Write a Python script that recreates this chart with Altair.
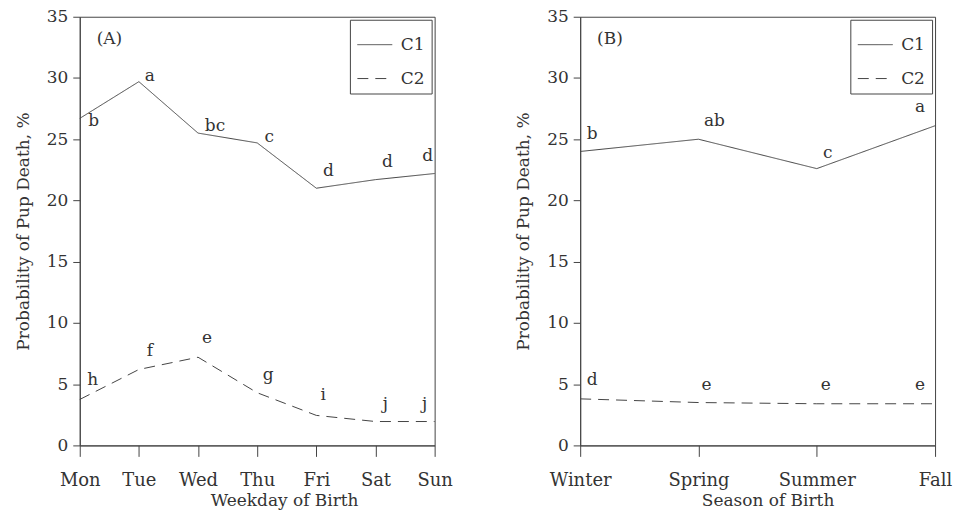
import altair as alt
import pandas as pd

# ---------------- data ----------------
weekdays = ["Mon", "Tue", "Wed", "Thu", "Fri", "Sat", "Sun"]
week_c1 = [26.7, 29.7, 25.5, 24.7, 21.0, 21.7, 22.2]
week_c2 = [3.75, 6.2, 7.2, 4.3, 2.45, 1.95, 1.95]
week_c1_letters = ["b", "a", "bc", "c", "d", "d", "d"]
week_c2_letters = ["h", "f", "e", "g", "i", "j", "j"]

seasons = ["Winter", "Spring", "Summer", "Fall"]
season_c1 = [24.0, 25.0, 22.6, 26.1]
season_c2 = [3.8, 3.5, 3.4, 3.4]
season_c1_letters = ["b", "ab", "c", "a"]
season_c2_letters = ["d", "e", "e", "e"]

# annotation placement (letter centre height in data units, horizontal shift in px)
week_c1_label_y = [26.5, 30.2, 26.1, 25.2, 22.4, 23.1, 23.6]
week_c1_label_dx = [14, 11, 17, 12, 12, 12, -7]
week_c2_label_y = [5.3, 7.7, 8.75, 5.75, 4.1, 3.4, 3.4]
week_c2_label_dx = [13, 11, 9, 11, 7, 10, -10]
season_c1_label_y = [25.4, 26.5, 23.9, 27.6]
season_c1_label_dx = [12, 16, 11, -15]
season_c2_label_y = [5.3, 4.9, 4.9, 4.9]
season_c2_label_dx = [12, 8, 9, -15]

y_tick_values = [0, 2.5, 5, 7.5, 10, 12.5, 15, 17.5, 20, 22.5, 25, 27.5, 30, 32.5, 35]

FONT = "DejaVu Serif"
INK = "#444444"
TEXT = "#333333"


def panel(cats, c1, c2, l1, l2, ly1, ly2, dx1, dx2, tag, xtitle, xtitle_x):
    df = pd.DataFrame({
        "cat": cats + cats,
        "value": c1 + c2,
        "series": ["C1"] * len(cats) + ["C2"] * len(cats),
    })
    lab = pd.DataFrame({
        "cat": cats + cats,
        "ly": ly1 + ly2,
        "dx": dx1 + dx2,
        "letter": l1 + l2,
    })
    xenc = alt.X(
        "cat:N",
        sort=cats,
        scale=alt.Scale(type="point", padding=0, domain=cats),
        axis=alt.Axis(title=xtitle, labelAngle=0, tickSize=11, labelPadding=15,
                      labelFontSize=18, titlePadding=3, titleX=xtitle_x,
                      titleAlign="center"),
    )
    yscale = alt.Scale(domain=[0, 35], nice=False, zero=True)
    line = alt.Chart(df).mark_line(color=INK, strokeWidth=1).encode(
        x=xenc,
        y=alt.Y(
            "value:Q",
            scale=yscale,
            axis=alt.Axis(
                title="Probability of Pup Death, %",
                values=y_tick_values,
                labelExpr="datum.value % 5 === 0 ? datum.label : ''",
                tickSize={"condition": {"test": "datum.value % 5 === 0", "value": 7}, "value": 3},
                labelPadding=5,
                titlePadding=14,
            ),
        ),
        strokeDash=alt.StrokeDash(
            "series:N",
            scale=alt.Scale(domain=["C1", "C2"], range=[[1, 0], [11, 7]]),
            legend=alt.Legend(
                title=None,
                orient="top-right",
                offset=3,
                strokeColor=INK,
                fillColor="white",
                padding=7,
                symbolType="stroke",
                symbolSize=1225,
                symbolStrokeWidth=1,
                symbolStrokeColor=INK,
                labelFont=FONT,
                labelFontSize=17,
                labelColor=TEXT,
                labelOffset=8,
                rowPadding=8,
            ),
        ),
    )
    letters = alt.Chart(lab).mark_text(font=FONT, fontSize=17, color=TEXT,
                                       baseline="middle", align="center").encode(
        x=alt.X("cat:N", sort=cats),
        y=alt.Y("ly:Q", scale=yscale),
        xOffset=alt.XOffset("dx:Q", scale=None),
        text="letter:N",
    )
    tagc = alt.Chart(pd.DataFrame({"t": [tag]})).mark_text(
        font=FONT, fontSize=17, color=TEXT, align="left", baseline="middle"
    ).encode(x=alt.value(17), y=alt.value(22), text="t:N")
    return alt.layer(line, letters, tagc).properties(width=356, height=430)


pa = panel(weekdays, week_c1, week_c2, week_c1_letters, week_c2_letters,
           week_c1_label_y, week_c2_label_y, week_c1_label_dx, week_c2_label_dx,
           "(A)", "Weekday of Birth", 205)
pb = panel(seasons, season_c1, season_c2, season_c1_letters, season_c2_letters,
           season_c1_label_y, season_c2_label_y, season_c1_label_dx, season_c2_label_dx,
           "(B)", "Season of Birth", 188)

chart = (
    alt.hconcat(pa, pb, spacing=60)
    .resolve_scale(strokeDash="independent")
    .resolve_legend(strokeDash="independent")
    .properties(padding={"left": 13, "top": 6, "right": 0, "bottom": 0}, background="white")
    .configure_view(stroke=INK, strokeWidth=1)
    .configure_axis(
        grid=False,
        domainColor=INK,
        tickColor=INK,
        labelFont=FONT,
        labelFontSize=17,
        labelColor=TEXT,
        titleFont=FONT,
        titleFontSize=17,
        titleFontWeight="normal",
        titleColor=TEXT,
    )
)

chart.save("out.html", embed_options={"renderer": "svg", "actions": False})
